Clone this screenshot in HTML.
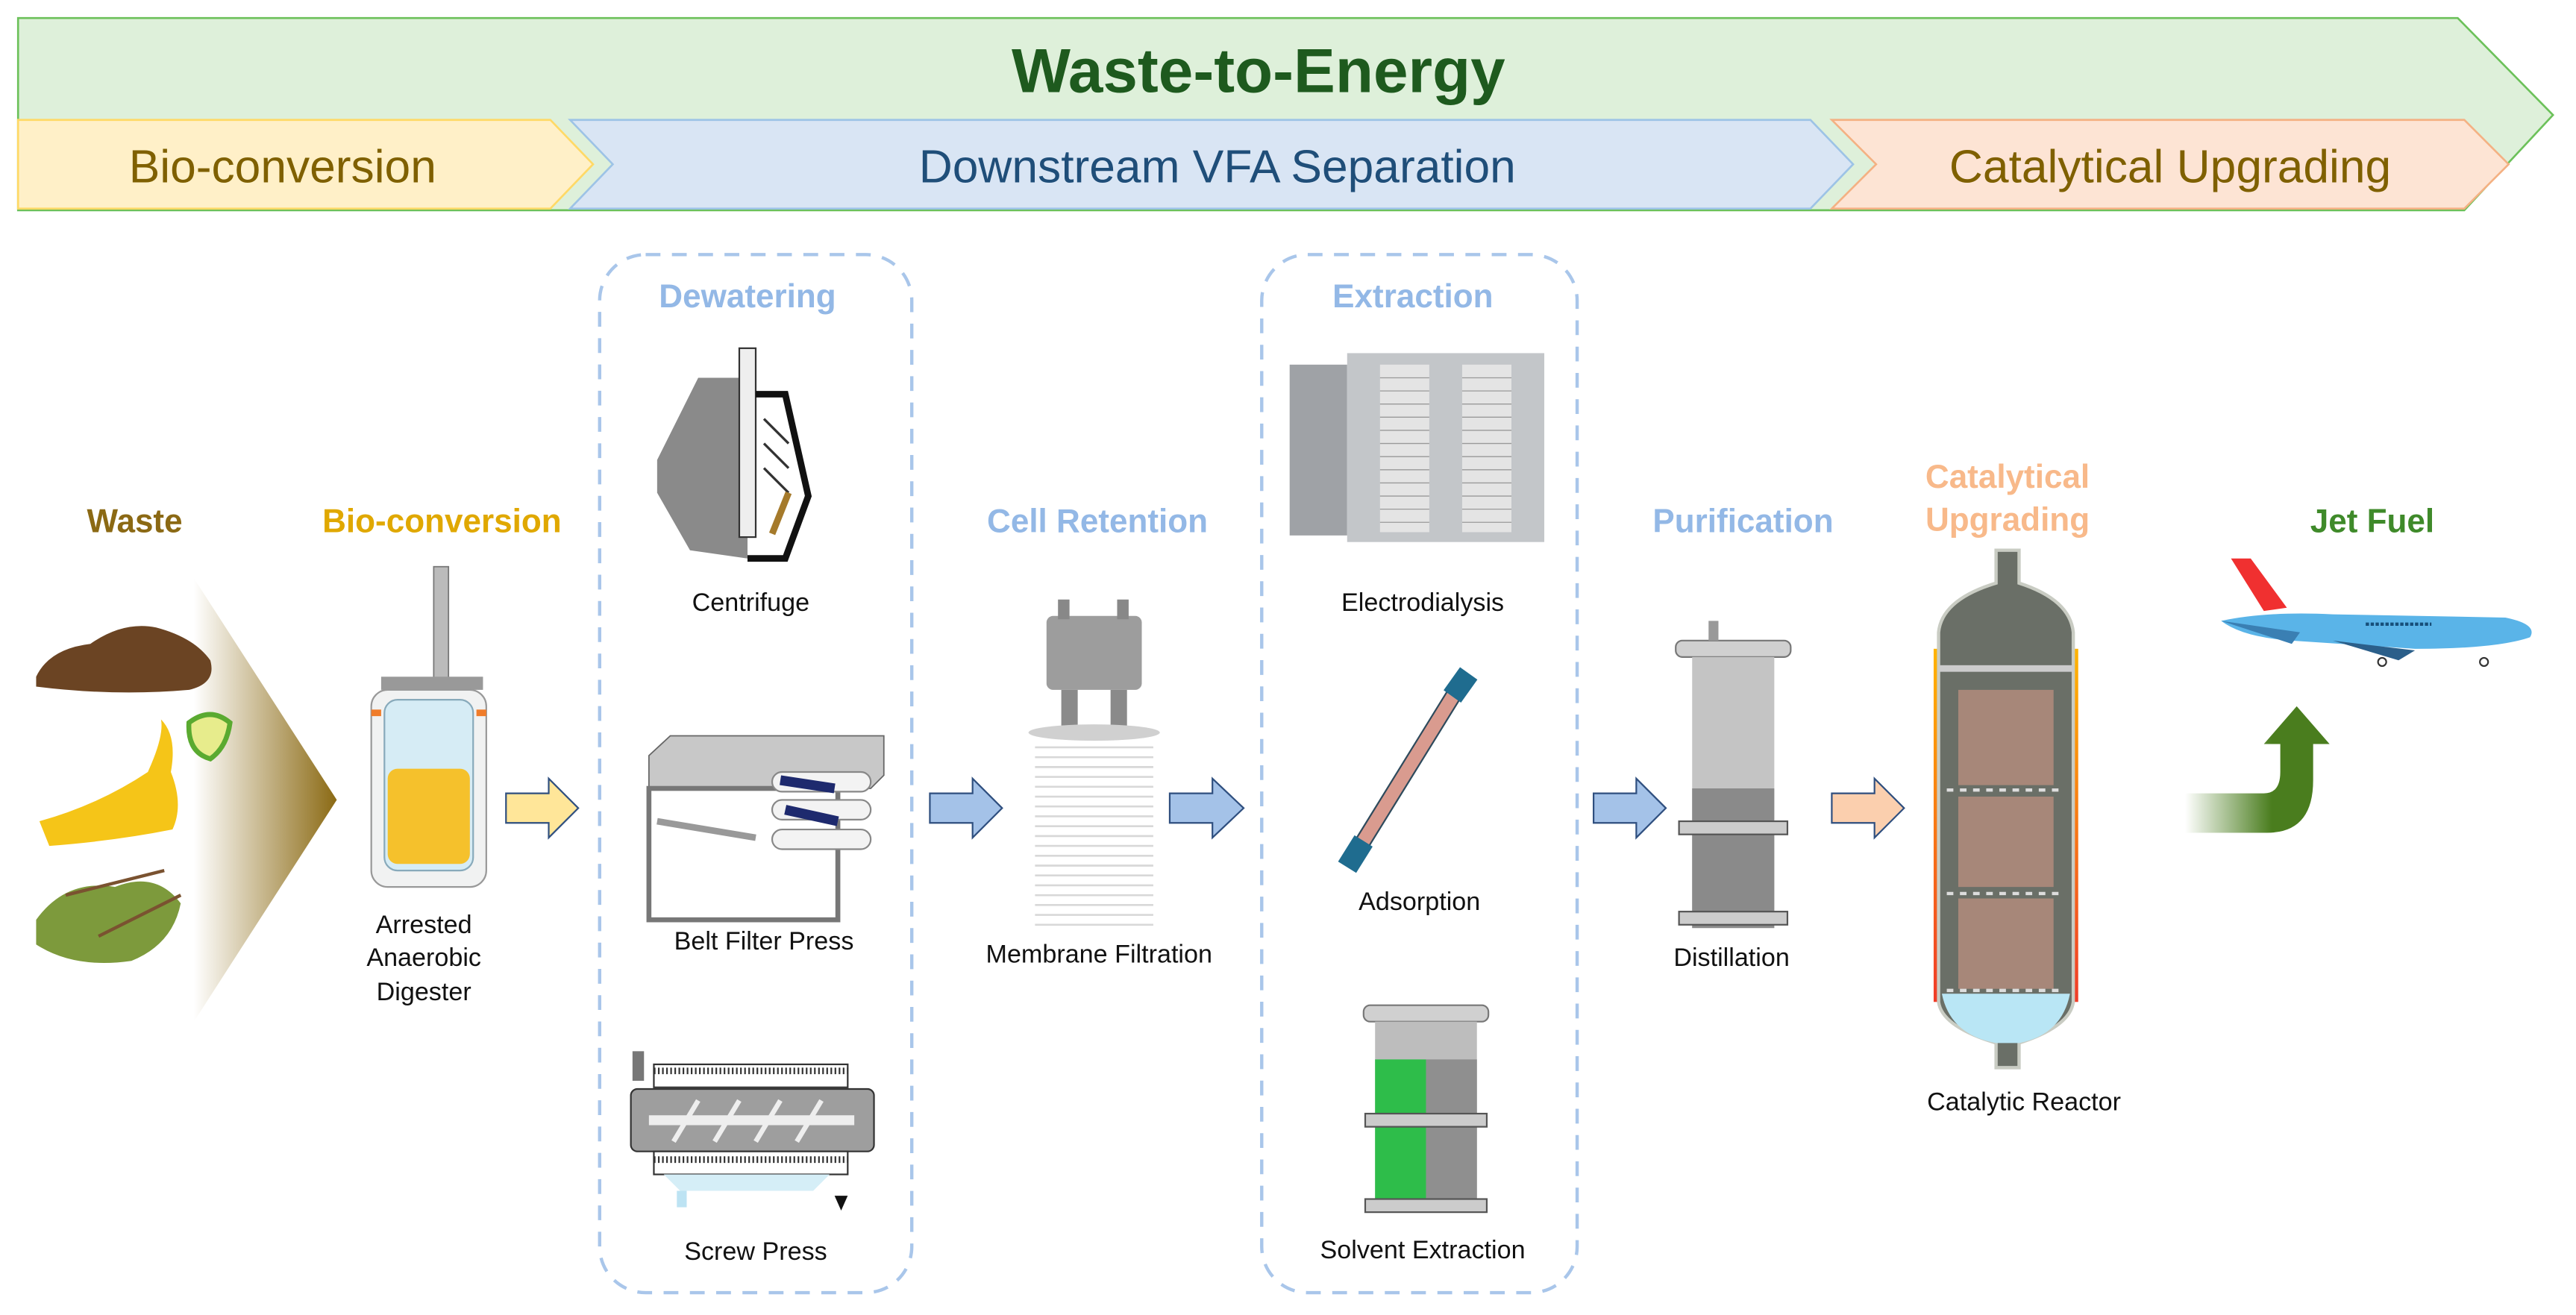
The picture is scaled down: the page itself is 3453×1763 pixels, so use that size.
<!DOCTYPE html>
<html><head><meta charset="utf-8"><style>
html,body{margin:0;padding:0;background:#fff;}
svg{display:block;}
text{font-family:"Liberation Sans",Arial,sans-serif;}
</style></head><body>
<svg width="3453" height="1763" viewBox="0 0 1568 800.6" preserveAspectRatio="none" xmlns="http://www.w3.org/2000/svg">
<defs>
<linearGradient id="wg" x1="0" x2="1" y1="0" y2="0"><stop offset="0" stop-color="#fff"/><stop offset="1" stop-color="#8b6a14"/></linearGradient>
<linearGradient id="ga" x1="0" x2="1"><stop offset="0" stop-color="#4a7d1e" stop-opacity="0"/><stop offset="0.6" stop-color="#4a7d1e"/></linearGradient>
<linearGradient id="hs" x1="0" x2="0" y1="0" y2="1"><stop offset="0" stop-color="#ffb400"/><stop offset="1" stop-color="#f03c28"/></linearGradient>
</defs>
<polygon points="11,11 1496,11 1554,70 1500,128 11,128" fill="#def0da" stroke="#6cc15a" stroke-width="1.2"/>
<text x="766" y="56" text-anchor="middle" font-size="38" font-weight="bold" fill="#1e5a1e">Waste-to-Energy</text>
<polygon points="11,73 335,73 361,100 335,127 11,127" fill="#fff0c8" stroke="#ffd966" stroke-width="1.2"/>
<text x="172" y="111" text-anchor="middle" font-size="28.3" fill="#7f6000">Bio-conversion</text>
<polygon points="347,73 1102,73 1128,100 1102,127 347,127 373,100" fill="#d9e5f4" stroke="#9dc3e6" stroke-width="1.2"/>
<text x="741" y="111" text-anchor="middle" font-size="28.3" fill="#1f4e79">Downstream VFA Separation</text>
<polygon points="1115,73 1500,73 1527,100 1500,127 1115,127 1142,100" fill="#fde4d4" stroke="#f4b183" stroke-width="1.2"/>
<text x="1321" y="111" text-anchor="middle" font-size="28.3" fill="#7f6000">Catalytical Upgrading</text>
<rect x="365" y="155" width="190" height="632" rx="28" fill="none" stroke="#a9c6ea" stroke-width="2" stroke-dasharray="9,7"/>
<rect x="768" y="155" width="192" height="632" rx="28" fill="none" stroke="#a9c6ea" stroke-width="2" stroke-dasharray="9,7"/>
<g font-weight="bold" font-size="20" text-anchor="middle">
<text x="82" y="324" fill="#8b6914">Waste</text>
<text x="269" y="324" fill="#e0a800">Bio-conversion</text>
<text x="455" y="187" fill="#93b8e6">Dewatering</text>
<text x="668" y="324" fill="#93b8e6">Cell Retention</text>
<text x="860" y="187" fill="#93b8e6">Extraction</text>
<text x="1061" y="324" fill="#93b8e6">Purification</text>
<text x="1222" y="297" fill="#f8b98a">Catalytical</text>
<text x="1222" y="323" fill="#f8b98a">Upgrading</text>
<text x="1444" y="324" fill="#3f8a2a">Jet Fuel</text>
</g>
<g font-size="15.5" text-anchor="middle" fill="#111">
<text x="457" y="372">Centrifuge</text>
<text x="465" y="578">Belt Filter Press</text>
<text x="460" y="767">Screw Press</text>
<text x="258" y="568">Arrested</text>
<text x="258" y="588">Anaerobic</text>
<text x="258" y="609">Digester</text>
<text x="669" y="586">Membrane Filtration</text>
<text x="866" y="372">Electrodialysis</text>
<text x="864" y="554">Adsorption</text>
<text x="866" y="766">Solvent Extraction</text>
<text x="1054" y="588">Distillation</text>
<text x="1232" y="676">Catalytic Reactor</text>
</g>
<g stroke="#2f4f7f" stroke-width="1">
<polygon points="308,483 334,483 334,474 352,492 334,510 334,501 308,501" fill="#ffe699"/>
<polygon points="566,483 592,483 592,474 610,492 592,510 592,501 566,501" fill="#a4c2e8"/>
<polygon points="712,483 738,483 738,474 757,492 738,510 738,501 712,501" fill="#a4c2e8"/>
<polygon points="970,483 996,483 996,474 1014,492 996,510 996,501 970,501" fill="#a4c2e8"/>
<polygon points="1115,483 1141,483 1141,474 1159,492 1141,510 1141,501 1115,501" fill="#fbcfae"/>
</g>
<polygon points="118,352 205,487 118,622" fill="url(#wg)"/>
<path d="M22,412 Q30,395 55,392 Q75,378 95,382 Q118,388 128,402 Q132,416 115,420 Q70,424 22,418 Z" fill="#6b4423"/>
<path d="M24,500 Q60,490 90,470 Q100,448 98,438 Q108,448 104,470 Q112,490 105,505 Q70,512 30,515 Z" fill="#f5c518"/>
<path d="M115,440 Q128,430 140,440 Q138,455 128,462 Q114,458 115,440 Z" fill="#e7ec8c" stroke="#5aaa30" stroke-width="3"/>
<path d="M22,560 Q40,535 70,540 Q95,530 110,550 Q105,575 80,585 Q45,590 22,575 Z" fill="#7d9a3c"/>
<path d="M40,545 L100,530 M60,570 L110,545" stroke="#7a5230" stroke-width="2"/>
<rect x="264" y="345" width="9" height="75" fill="#bbb" stroke="#777" stroke-width="0.8"/>
<rect x="232" y="412" width="62" height="8" fill="#999"/>
<rect x="226" y="420" width="70" height="120" rx="10" fill="#f1f2f2" stroke="#999"/>
<rect x="234" y="426" width="54" height="104" rx="8" fill="#d6ecf5" stroke="#8ab"/>
<rect x="236" y="468" width="50" height="58" rx="6" fill="#f5c12c"/>
<rect x="226" y="432" width="6" height="4" fill="#f07c2a"/><rect x="290" y="432" width="6" height="4" fill="#f07c2a"/>
<polygon points="425,230 455,230 455,340 420,335 400,300 400,280" fill="#8a8a8a"/>
<rect x="450" y="212" width="10" height="115" fill="#eee" stroke="#333"/>
<path d="M460,240 L478,240 L492,302 L478,340 L455,340" fill="none" stroke="#111" stroke-width="4"/>
<path d="M465,255 L480,270 M465,270 L480,285 M465,285 L480,300" stroke="#333" stroke-width="1.5"/>
<path d="M480,300 L470,325" stroke="#a57a2b" stroke-width="4"/>
<polygon points="395,460 408,448 538,448 538,472 530,480 395,480" fill="#c8c8c8" stroke="#666" stroke-width="0.8"/>
<rect x="395" y="480" width="115" height="80" fill="none" stroke="#777" stroke-width="3"/>
<rect x="470" y="470" width="60" height="12" rx="6" fill="#f3f3f3" stroke="#888"/>
<rect x="470" y="487" width="60" height="12" rx="6" fill="#f3f3f3" stroke="#888"/>
<rect x="470" y="505" width="60" height="12" rx="6" fill="#f3f3f3" stroke="#888"/>
<path d="M475,475 L508,480 M478,493 L510,500" stroke="#1e2a6e" stroke-width="6"/>
<line x1="400" y1="500" x2="460" y2="510" stroke="#999" stroke-width="4"/>
<rect x="384" y="663" width="148" height="38" rx="4" fill="#9e9e9e" stroke="#333"/>
<rect x="398" y="648" width="118" height="14" fill="#fff" stroke="#333"/>
<rect x="398" y="701" width="118" height="14" fill="#fff" stroke="#333"/>
<path d="M398,652 h118 M398,706 h118" stroke="#333" stroke-width="4" stroke-dasharray="1,1.5"/>
<path d="M395,682 L520,682" stroke="#eee" stroke-width="6"/>
<path d="M410,695 L425,670 M435,695 L450,670 M460,695 L475,670 M485,695 L500,670" stroke="#eee" stroke-width="3"/>
<polygon points="404,715 505,715 495,725 414,725" fill="#d5eef7"/>
<rect x="412" y="725" width="6" height="10" fill="#bde3f3"/>
<polygon points="508,728 516,728 512,737" fill="#111"/>
<rect x="385" y="640" width="7" height="18" fill="#777"/>
<rect x="637" y="375" width="58" height="45" rx="4" fill="#9d9d9d"/>
<rect x="644" y="365" width="7" height="12" fill="#888"/><rect x="680" y="365" width="7" height="12" fill="#888"/>
<rect x="646" y="420" width="10" height="22" fill="#8a8a8a"/><rect x="676" y="420" width="10" height="22" fill="#8a8a8a"/>
<ellipse cx="666" cy="446" rx="40" ry="5" fill="#d0d0d0"/>
<g stroke="#d8d8d8" stroke-width="1.2">
<path d="M630,455 h72 M630,461 h72 M630,467 h72 M630,473 h72 M630,479 h72 M630,485 h72 M630,491 h72 M630,497 h72 M630,503 h72 M630,509 h72 M630,515 h72 M630,521 h72 M630,527 h72 M630,533 h72 M630,539 h72 M630,545 h72 M630,551 h72 M630,557 h72 M630,563 h72"/>
</g>
<rect x="785" y="222" width="35" height="104" fill="#9fa2a6"/>
<rect x="820" y="215" width="120" height="115" fill="#c3c6c9"/>
<rect x="840" y="222" width="30" height="102" fill="#e4e4e4"/>
<rect x="890" y="222" width="30" height="102" fill="#e4e4e4"/>
<g stroke="#999" stroke-width="0.6"><path d="M840,230h30M840,238h30M840,246h30M840,254h30M840,262h30M840,270h30M840,278h30M840,286h30M840,294h30M840,302h30M840,310h30M840,318h30M890,230h30M890,238h30M890,246h30M890,254h30M890,262h30M890,270h30M890,278h30M890,286h30M890,294h30M890,302h30M890,310h30M890,318h30"/></g>
<line x1="825" y1="520" x2="888" y2="418" stroke="#2d4a5c" stroke-width="10" stroke-linecap="round"/>
<line x1="825" y1="520" x2="888" y2="418" stroke="#d99b8f" stroke-width="8"/>
<line x1="820" y1="528" x2="830" y2="512" stroke="#1f6c8f" stroke-width="13"/>
<line x1="884" y1="424" x2="894" y2="410" stroke="#1f6c8f" stroke-width="13"/>
<rect x="830" y="612" width="76" height="10" rx="4" fill="#d0d0d0" stroke="#777"/>
<rect x="837" y="622" width="62" height="115" fill="#bdbdbd"/>
<rect x="837" y="645" width="31" height="90" fill="#2ebd4a"/>
<rect x="868" y="645" width="31" height="90" fill="#8f8f8f"/>
<rect x="831" y="678" width="74" height="8" fill="#ccc" stroke="#555"/>
<rect x="831" y="730" width="74" height="8" fill="#ccc" stroke="#555"/>
<rect x="1020" y="390" width="70" height="10" rx="4" fill="#d0d0d0" stroke="#777"/>
<rect x="1030" y="400" width="50" height="165" fill="#c4c4c4"/>
<rect x="1030" y="480" width="50" height="85" fill="#8a8a8a"/>
<rect x="1022" y="500" width="66" height="8" fill="#ccc" stroke="#555"/>
<rect x="1022" y="555" width="66" height="8" fill="#ccc" stroke="#555"/>
<rect x="1040" y="378" width="6" height="12" fill="#999"/>
<rect x="1177" y="395" width="8" height="215" fill="url(#hs)"/>
<rect x="1257" y="395" width="8" height="215" fill="url(#hs)"/>
<path d="M1215,335 L1229,335 L1229,355 Q1260,365 1262,385 L1262,610 Q1260,625 1229,635 L1229,650 L1215,650 L1215,635 Q1182,625 1180,610 L1180,385 Q1182,365 1215,355 Z" fill="#6a6f67" stroke="#c9ccc3" stroke-width="2"/>
<path d="M1182,605 L1260,605 Q1255,630 1229,635 L1215,635 Q1187,630 1182,605 Z" fill="#b9e6f5"/>
<g fill="#d89a88"><rect x="1192" y="420" width="58" height="58" opacity="0.55"/><rect x="1192" y="485" width="58" height="55" opacity="0.55"/><rect x="1192" y="547" width="58" height="55" opacity="0.55"/></g>
<g stroke="#ddd" stroke-width="2" stroke-dasharray="4,4"><path d="M1185,481h72M1185,544h72M1185,603h72"/></g>
<rect x="1180" y="405" width="82" height="4" fill="#ccc"/>
<polygon points="1358,340 1370,340 1392,370 1378,372" fill="#f03030"/>
<path d="M1352,378 Q1380,372 1420,374 L1525,376 Q1545,380 1540,388 Q1520,395 1470,395 L1395,390 Q1365,388 1352,378 Z" fill="#5ab4e8"/>
<path d="M1352,378 L1400,385 L1395,392 Z" fill="#3a7fb3"/>
<path d="M1420,390 L1460,402 L1470,396 Z" fill="#2b5f8a"/>
<path d="M1440,380 h40" stroke="#174f7a" stroke-width="2" stroke-dasharray="2,1"/>
<circle cx="1450" cy="403" r="2.5" fill="none" stroke="#333"/><circle cx="1512" cy="403" r="2.5" fill="none" stroke="#333"/>
<path d="M1330,483 L1378,483 Q1388,483 1388,470 L1388,453 L1378,453 L1398,430 L1418,453 L1408,453 L1408,475 Q1408,507 1380,507 L1330,507 Z" fill="url(#ga)"/>
</svg>
</body></html>
